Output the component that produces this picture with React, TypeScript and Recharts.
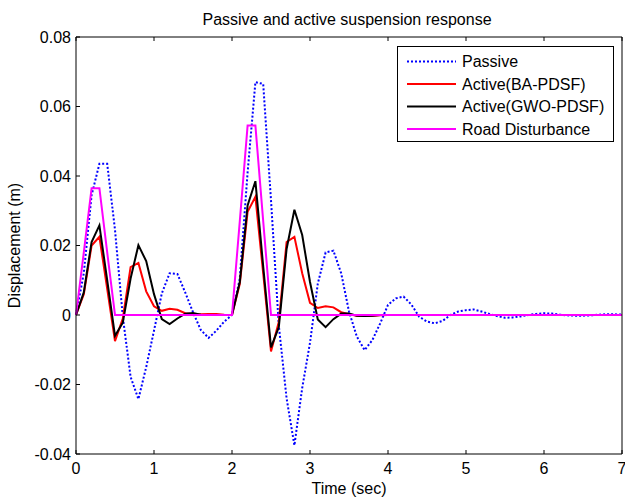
import React from 'react';
import { LineChart, Line, XAxis, YAxis, Legend } from 'recharts';

// time samples (sec)
const TIME = [
  0, 0.1, 0.2, 0.3, 0.4, 0.5, 0.6, 0.7, 0.8, 0.9,
  1.0, 1.1, 1.2, 1.3, 1.4, 1.5, 1.6, 1.7, 1.8, 1.9,
  2.0, 2.1, 2.2, 2.3, 2.4, 2.5, 2.6, 2.7, 2.8, 2.9,
  3.0, 3.1, 3.2, 3.3, 3.4, 3.5, 3.6, 3.7, 3.8, 3.9,
  4.0, 4.1, 4.2, 4.3, 4.4, 4.5, 4.6, 4.7, 4.8, 4.9,
  5.0, 5.1, 5.2, 5.3, 5.4, 5.5, 5.6, 5.7, 5.8, 5.9,
  6.0, 6.1, 6.2, 6.3, 6.4, 6.5, 6.6, 6.7, 6.8, 6.9,
  7.0,
];

const PASSIVE = [
  0, 0.012, 0.0345, 0.0435, 0.0435, 0.0245, -0.0005, -0.0178, -0.0242, -0.015,
  -0.0045, 0.0062, 0.012, 0.0118, 0.0065, 0.0008, -0.0043, -0.0066, -0.0045, -0.0019,
  0, 0.0105, 0.041, 0.067, 0.0665, 0.033, -0.003, -0.024, -0.0375, -0.021,
  -0.008, 0.009, 0.018, 0.0185, 0.012, 0.001, -0.0062, -0.0101, -0.0072, -0.0024,
  0.0029, 0.0048, 0.0053, 0.003, -0.0005, -0.0019, -0.0024, -0.0017, 0, 0.001,
  0.0014, 0.0016, 0.001, 0.0003, -0.0003, -0.0008, -0.0007, -0.0004, 0, 0.0003,
  0.0005, 0.0004, 0.0001, -0.0001, -0.0002, -0.0002, -0.0001, 0.0001, 0.0002, 0.0002,
  0.0001,
];

const ACTIVE_BA = [
  0, 0.006, 0.02, 0.0225, 0.0075, -0.0075, -0.001, 0.0138, 0.015, 0.0068,
  0.0025, 0.0012, 0.0018, 0.0015, 0.0005, 0.0002, 0.0002, 0.0003, 0.0003, 0.0001,
  0, 0.009, 0.0297, 0.034, 0.012, -0.0105, -0.002, 0.021, 0.0225, 0.012,
  0.0035, 0.002, 0.0025, 0.0022, 0.0008, 0.0002, -0.0002, -0.0003, -0.0002, -0.0001,
  0, 0, 0, 0, 0, 0, 0, 0, 0, 0,
  0, 0, 0, 0, 0, 0, 0, 0, 0, 0,
  0, 0, 0, 0, 0, 0, 0, 0, 0, 0,
  0,
];

const ACTIVE_GWO = [
  0, 0.0065, 0.021, 0.0258, 0.01, -0.006, -0.0022, 0.0105, 0.0201, 0.0155,
  0.006, -0.0012, -0.0026, -0.001, 0.0004, 0.0006, 0.0001, 0, 0, 0,
  0, 0.0095, 0.0315, 0.0385, 0.014, -0.0093, -0.0035, 0.019, 0.0303, 0.023,
  0.0095, -0.0013, -0.0035, -0.0012, 0.0004, 0.0004, -0.0002, -0.0003, -0.0002, 0,
  0, 0, 0, 0, 0, 0, 0, 0, 0, 0,
  0, 0, 0, 0, 0, 0, 0, 0, 0, 0,
  0, 0, 0, 0, 0, 0, 0, 0, 0, 0,
  0,
];

const ROAD = [
  0, 0.018, 0.0365, 0.0365, 0.018, 0, 0, 0, 0, 0,
  0, 0, 0, 0, 0, 0, 0, 0, 0, 0,
  0, 0.027, 0.0545, 0.0545, 0.027, 0, 0, 0, 0, 0,
  0, 0, 0, 0, 0, 0, 0, 0, 0, 0,
  0, 0, 0, 0, 0, 0, 0, 0, 0, 0,
  0, 0, 0, 0, 0, 0, 0, 0, 0, 0,
  0, 0, 0, 0, 0, 0, 0, 0, 0, 0,
  0,
];

const X_TICKS = [0, 1, 2, 3, 4, 5, 6, 7];
const Y_TICKS = [-0.04, -0.02, 0, 0.02, 0.04, 0.06, 0.08];

const SERIES = [
  { key: 'passive', name: 'Passive', color: '#0000ff', dash: '2 2' },
  { key: 'ba', name: 'Active(BA-PDSF)', color: '#ff0000', dash: undefined },
  { key: 'gwo', name: 'Active(GWO-PDSF)', color: '#000000', dash: undefined },
  { key: 'road', name: 'Road Disturbance', color: '#ff00ff', dash: undefined },
];

const data = TIME.map((t, i) => ({
  t,
  passive: PASSIVE[i],
  ba: ACTIVE_BA[i],
  gwo: ACTIVE_GWO[i],
  road: ROAD[i],
}));

const FONT = 'Liberation Sans, Arial, Helvetica, sans-serif';
const tickStyle = { fill: '#000', fontSize: 16, fontFamily: FONT };
const blank = () => '';

const renderLegend = () => (
  <svg width={217} height={96} style={{ display: 'block' }}>
    <rect x={0.5} y={0.5} width={216} height={95} fill="#fff" stroke="#000" strokeWidth={1} />
    {SERIES.map((s, i) => {
      const cy = 15.5 + i * 22.5;
      return (
        <g key={s.key}>
          <line x1={10} x2={59} y1={cy} y2={cy} stroke={s.color} strokeWidth={2} strokeDasharray={s.dash} />
          <text x={65} y={cy + 5.5} fontSize={16} fontFamily={FONT} fill="#000">{s.name}</text>
        </g>
      );
    })}
  </svg>
);

export default function App() {
  return (
    <div style={{ position: 'absolute', left: 0, top: 0, width: 625, height: 497, background: '#fff' }}>
      <LineChart width={625} height={497} data={data} margin={{ top: 36, right: 2, left: 75, bottom: 42 }}>
        <XAxis
          xAxisId="b"
          dataKey="t"
          type="number"
          domain={[0, 7]}
          ticks={X_TICKS}
          height={1}
          axisLine={{ stroke: '#000' }}
          tickLine={{ stroke: '#000' }}
          tickSize={-4}
          tickMargin={13}
          tick={tickStyle}
          interval={0}
          label={{ value: 'Time (sec)', position: 'bottom', offset: 28, fill: '#000', fontSize: 16, fontFamily: FONT }}
        />
        <XAxis
          xAxisId="top"
          orientation="top"
          dataKey="t"
          type="number"
          domain={[0, 7]}
          ticks={X_TICKS}
          height={1}
          axisLine={{ stroke: '#000' }}
          tickLine={{ stroke: '#000' }}
          tickSize={-4}
          tickFormatter={blank}
          interval={0}
          label={{ value: 'Passive and active suspension response', position: 'top', offset: 11, dx: -2, fill: '#000', fontSize: 16, fontFamily: FONT }}
        />
        <YAxis
          yAxisId="l"
          type="number"
          domain={[-0.04, 0.08]}
          ticks={Y_TICKS}
          width={1}
          axisLine={{ stroke: '#000' }}
          tickLine={{ stroke: '#000' }}
          tickSize={-4}
          tickMargin={9}
          tick={tickStyle}
          interval={0}
          label={{ value: 'Displacement (m)', angle: -90, position: 'center', dx: -61.5, fill: '#000', fontSize: 16, fontFamily: FONT }}
        />
        <YAxis
          yAxisId="r"
          orientation="right"
          type="number"
          domain={[-0.04, 0.08]}
          ticks={Y_TICKS}
          width={1}
          axisLine={{ stroke: '#000' }}
          tickLine={{ stroke: '#000' }}
          tickSize={-4}
          tickFormatter={blank}
          interval={0}
        />
        <Legend
          content={renderLegend}
          layout="vertical"
          align="center"
          verticalAlign="middle"
          wrapperStyle={{ left: 397, top: 46, width: 217, height: 96 }}
        />
        {SERIES.map((s) => (
          <Line
            key={s.key}
            xAxisId="b"
            yAxisId="l"
            dataKey={s.key}
            name={s.name}
            type="linear"
            stroke={s.color}
            strokeWidth={2}
            strokeDasharray={s.dash}
            dot={false}
            activeDot={false}
            isAnimationActive={false}
          />
        ))}
      </LineChart>
    </div>
  );
}
